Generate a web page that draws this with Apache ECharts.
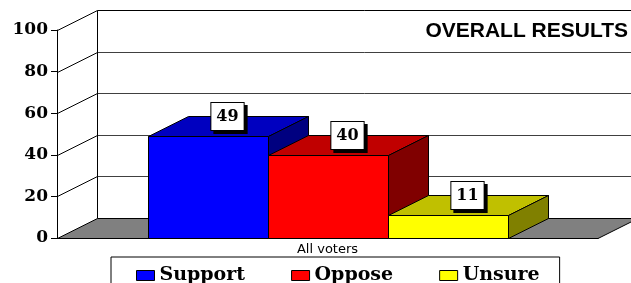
<!DOCTYPE html>
<html>
<head>
<meta charset="utf-8">
<script src="https://cdn.jsdelivr.net/npm/echarts@6/dist/echarts.min.js"></script>
<style>
  html, body { margin: 0; padding: 0; background: #fff; }
  #chart { width: 631px; height: 283px; }
</style>
</head>
<body>
<div id="chart"></div>
<script>
const categories = ["All voters"];
const seriesNames = ["Support", "Oppose", "Unsure"];
const support = [49];
const oppose = [40];
const unsure = [11];
const yTicks = [0, 20, 40, 60, 80, 100];

// depth of the fake 3d box, in pixels
const DX = 40;
const DY = -20;
const BAR_SHARE = 120 / 541;

const palette = {
  Support: { front: "#0000ff", top: "#0000c0", side: "#000080" },
  Oppose: { front: "#ff0000", top: "#c00000", side: "#800000" },
  Unsure: { front: "#ffff00", top: "#c0c000", side: "#808000" },
};

const crisp = (v) => Math.round(v) + 0.5;

function renderFrame(params, api) {
  const cs = params.coordSys;
  const v = api.value(1);
  const y = crisp(api.coord([0, v])[1]);
  const left = crisp(cs.x);
  const right = cs.x + cs.width;
  const children = [];
  if (v === 0) {
    children.push({
      type: "polygon",
      shape: { points: [[left, y], [left + DX, y + DY], [right + DX, y + DY], [right, y]] },
      style: { fill: "#808080", stroke: "#000", lineWidth: 1 },
    });
  } else {
    children.push({
      type: "line",
      shape: { x1: left, y1: y, x2: left + DX, y2: y + DY },
      style: { stroke: "#000", lineWidth: 1 },
    });
    children.push({
      type: "line",
      shape: { x1: left + DX, y1: y + DY, x2: right + DX, y2: y + DY },
      style: { stroke: v === 100 ? "#000" : "#404040", lineWidth: 1 },
    });
  }
  if (v === 100) {
    const base = crisp(api.coord([0, 0])[1]);
    children.push({
      type: "line",
      shape: { x1: left + DX, y1: y + DY, x2: left + DX, y2: base + DY },
      style: { stroke: "#000", lineWidth: 1 },
    });
  }
  return { type: "group", children };
}

function barRenderer(slot, colors) {
  return function (params, api) {
    const value = api.value(1);
    const top = api.coord([api.value(0), value]);
    const base = api.coord([api.value(0), 0]);
    const w = api.size([1, 0])[0] * BAR_SHARE;
    const x0 = crisp(top[0] + (slot - 1.5) * w);
    const x1 = crisp(top[0] + (slot - 0.5) * w);
    const yt = crisp(top[1]);
    const yb = crisp(base[1]);
    const edge = { stroke: "#000", lineWidth: 1 };
    return {
      type: "group",
      children: [
        {
          type: "polygon",
          shape: { points: [[x0, yt], [x1, yt], [x1, yb], [x0, yb]] },
          style: Object.assign({ fill: colors.front }, edge),
        },
        {
          type: "polygon",
          shape: { points: [[x0, yt], [x0 + DX, yt + DY], [x1 + DX, yt + DY], [x1, yt]] },
          style: Object.assign({ fill: colors.top }, edge),
        },
        {
          type: "polygon",
          shape: { points: [[x1, yt], [x1 + DX, yt + DY], [x1 + DX, yb + DY], [x1, yb]] },
          style: Object.assign({ fill: colors.side }, edge),
        },
        {
          type: "text",
          x: (x0 + x1 + DX) / 2 - 1,
          y: yt + DY / 2 - 10,
          z2: 10,
          style: {
            text: String(value),
            font: 'bold 16px "DejaVu Serif"',
            fill: "#000",
            align: "center",
            verticalAlign: "middle",
            backgroundColor: "#fff",
            borderColor: "#000",
            borderWidth: 1,
            padding: [6, 5, 5, 5],
            shadowColor: "#000",
            shadowBlur: 0,
            shadowOffsetX: 3,
            shadowOffsetY: 3,
          },
        },
      ],
    };
  };
}

const values = [support, oppose, unsure];

const chart = echarts.init(document.getElementById("chart"));
chart.setOption({
  animation: false,
  backgroundColor: "#fff",
  title: {
    text: "OVERALL RESULTS",
    right: 3,
    top: 21,
    padding: 0,
    textStyle: { fontFamily: "Liberation Sans", fontWeight: "bold", fontSize: 21, color: "#000" },
  },
  legend: {
    left: 111,
    top: 257,
    padding: [9, 20, 14, 25],
    itemGap: 46,
    itemWidth: 18,
    itemHeight: 10,
    borderColor: "#000",
    borderWidth: 1,
    data: seriesNames.map((name) => ({
      name,
      icon: "rect",
      itemStyle: { color: palette[name].front, borderColor: "#000", borderWidth: 1 },
    })),
    textStyle: { fontFamily: "DejaVu Serif", fontWeight: "bold", fontSize: 19, color: "#000" },
  },
  grid: { left: 57, right: 33, top: 30, bottom: 45, containLabel: false },
  xAxis: {
    type: "category",
    data: categories,
    axisLine: { lineStyle: { color: "#000" } },
    axisTick: { length: 4, lineStyle: { color: "#000" } },
    axisLabel: { margin: 5, fontFamily: "DejaVu Sans", fontSize: 13, color: "#000" },
  },
  yAxis: {
    type: "value",
    min: 0,
    max: 100,
    interval: 20,
    axisLine: { show: true, lineStyle: { color: "#000" } },
    axisTick: { show: true, length: 6, lineStyle: { color: "#000" } },
    axisLabel: { margin: 9, fontFamily: "DejaVu Serif", fontWeight: "bold", fontSize: 17, color: "#000" },
    splitLine: { show: false },
  },
  series: [
    {
      type: "custom",
      name: "frame",
      coordinateSystem: "cartesian2d",
      z: 1,
      silent: true,
      clip: false,
      data: yTicks.map((v) => [0, v]),
      renderItem: renderFrame,
    },
  ].concat(
    seriesNames.map((name, i) => ({
      type: "custom",
      name,
      coordinateSystem: "cartesian2d",
      z: 3 + i,
      clip: false,
      itemStyle: { color: palette[name].front },
      data: values[i].map((v, j) => [j, v]),
      renderItem: barRenderer(i, palette[name]),
    }))
  ),
});
</script>
</body>
</html>
